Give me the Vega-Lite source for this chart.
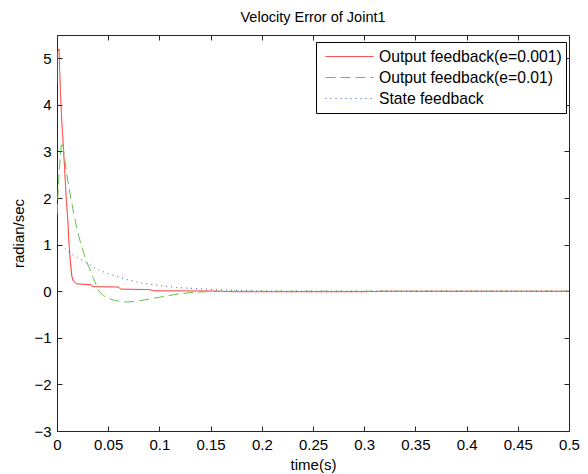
{
  "$schema": "https://vega.github.io/schema/vega-lite/v6.json",
  "width": 512,
  "height": 396,
  "autosize": {"type": "none"},
  "padding": {"left": 57, "top": 35, "right": 19, "bottom": 43},
  "title": {"text": "Velocity Error of Joint1", "fontSize": 14.5, "font": "Liberation Sans", "fontWeight": "normal", "color": "#000000", "offset": 9, "anchor": "middle"},
  "data": {"values": [
    {"s": "Output feedback(e=0.001)", "t": 0, "v": 4.45},
    {"s": "Output feedback(e=0.001)", "t": 0.0005, "v": 5.15},
    {"s": "Output feedback(e=0.001)", "t": 0.002, "v": 5.2},
    {"s": "Output feedback(e=0.001)", "t": 0.0025, "v": 4.8},
    {"s": "Output feedback(e=0.001)", "t": 0.0035, "v": 4.2},
    {"s": "Output feedback(e=0.001)", "t": 0.0048, "v": 3.6},
    {"s": "Output feedback(e=0.001)", "t": 0.0062, "v": 3.1},
    {"s": "Output feedback(e=0.001)", "t": 0.0075, "v": 2.6},
    {"s": "Output feedback(e=0.001)", "t": 0.009, "v": 2.0},
    {"s": "Output feedback(e=0.001)", "t": 0.0105, "v": 1.55},
    {"s": "Output feedback(e=0.001)", "t": 0.0118, "v": 1.0},
    {"s": "Output feedback(e=0.001)", "t": 0.0132, "v": 0.6},
    {"s": "Output feedback(e=0.001)", "t": 0.0145, "v": 0.32},
    {"s": "Output feedback(e=0.001)", "t": 0.016, "v": 0.22},
    {"s": "Output feedback(e=0.001)", "t": 0.019, "v": 0.16},
    {"s": "Output feedback(e=0.001)", "t": 0.033, "v": 0.14},
    {"s": "Output feedback(e=0.001)", "t": 0.035, "v": 0.1},
    {"s": "Output feedback(e=0.001)", "t": 0.06, "v": 0.09},
    {"s": "Output feedback(e=0.001)", "t": 0.062, "v": 0.045},
    {"s": "Output feedback(e=0.001)", "t": 0.09, "v": 0.035},
    {"s": "Output feedback(e=0.001)", "t": 0.095, "v": 0.01},
    {"s": "Output feedback(e=0.001)", "t": 0.15, "v": 0.005},
    {"s": "Output feedback(e=0.001)", "t": 0.17, "v": -0.01},
    {"s": "Output feedback(e=0.001)", "t": 0.3, "v": -0.01},
    {"s": "Output feedback(e=0.001)", "t": 0.32, "v": 0},
    {"s": "Output feedback(e=0.001)", "t": 0.5, "v": 0},
    {"s": "Output feedback(e=0.01)", "t": 0, "v": 1.65},
    {"s": "Output feedback(e=0.01)", "t": 0.001, "v": 2.1},
    {"s": "Output feedback(e=0.01)", "t": 0.002, "v": 2.5},
    {"s": "Output feedback(e=0.01)", "t": 0.0035, "v": 3.0},
    {"s": "Output feedback(e=0.01)", "t": 0.0046, "v": 3.2},
    {"s": "Output feedback(e=0.01)", "t": 0.006, "v": 3.1},
    {"s": "Output feedback(e=0.01)", "t": 0.0075, "v": 2.85},
    {"s": "Output feedback(e=0.01)", "t": 0.01, "v": 2.45},
    {"s": "Output feedback(e=0.01)", "t": 0.0135, "v": 2.0},
    {"s": "Output feedback(e=0.01)", "t": 0.017, "v": 1.6},
    {"s": "Output feedback(e=0.01)", "t": 0.02, "v": 1.3},
    {"s": "Output feedback(e=0.01)", "t": 0.0234, "v": 1.0},
    {"s": "Output feedback(e=0.01)", "t": 0.0257, "v": 0.85},
    {"s": "Output feedback(e=0.01)", "t": 0.0285, "v": 0.65},
    {"s": "Output feedback(e=0.01)", "t": 0.0316, "v": 0.5},
    {"s": "Output feedback(e=0.01)", "t": 0.0355, "v": 0.28},
    {"s": "Output feedback(e=0.01)", "t": 0.041, "v": 0.0},
    {"s": "Output feedback(e=0.01)", "t": 0.045, "v": -0.09},
    {"s": "Output feedback(e=0.01)", "t": 0.05, "v": -0.15},
    {"s": "Output feedback(e=0.01)", "t": 0.055, "v": -0.19},
    {"s": "Output feedback(e=0.01)", "t": 0.062, "v": -0.22},
    {"s": "Output feedback(e=0.01)", "t": 0.068, "v": -0.23},
    {"s": "Output feedback(e=0.01)", "t": 0.076, "v": -0.22},
    {"s": "Output feedback(e=0.01)", "t": 0.087, "v": -0.18},
    {"s": "Output feedback(e=0.01)", "t": 0.1, "v": -0.13},
    {"s": "Output feedback(e=0.01)", "t": 0.115, "v": -0.07},
    {"s": "Output feedback(e=0.01)", "t": 0.13, "v": -0.03},
    {"s": "Output feedback(e=0.01)", "t": 0.145, "v": -0.01},
    {"s": "Output feedback(e=0.01)", "t": 0.16, "v": 0},
    {"s": "Output feedback(e=0.01)", "t": 0.5, "v": 0},
    {"s": "State feedback", "t": 0, "v": 1.05},
    {"s": "State feedback", "t": 0.005, "v": 0.98},
    {"s": "State feedback", "t": 0.012, "v": 0.83},
    {"s": "State feedback", "t": 0.02, "v": 0.72},
    {"s": "State feedback", "t": 0.03, "v": 0.6},
    {"s": "State feedback", "t": 0.039, "v": 0.47},
    {"s": "State feedback", "t": 0.051, "v": 0.37},
    {"s": "State feedback", "t": 0.068, "v": 0.25},
    {"s": "State feedback", "t": 0.084, "v": 0.17},
    {"s": "State feedback", "t": 0.1, "v": 0.12},
    {"s": "State feedback", "t": 0.117, "v": 0.08},
    {"s": "State feedback", "t": 0.133, "v": 0.06},
    {"s": "State feedback", "t": 0.15, "v": 0.04},
    {"s": "State feedback", "t": 0.166, "v": 0.025},
    {"s": "State feedback", "t": 0.185, "v": 0.01},
    {"s": "State feedback", "t": 0.21, "v": 0},
    {"s": "State feedback", "t": 0.5, "v": 0}
  ]},
  "layer": [
    {
      "mark": {"type": "line", "strokeWidth": 1, "clip": true},
      "encoding": {
        "x": {"field": "t", "type": "quantitative", "scale": {"domain": [0, 0.5], "nice": false, "zero": false},
              "axis": {"orient": "bottom", "values": [0, 0.05, 0.1, 0.15, 0.2, 0.25, 0.3, 0.35, 0.4, 0.45, 0.5], "format": "~g", "title": "time(s)", "titlePadding": 5}},
        "y": {"field": "v", "type": "quantitative", "scale": {"domain": [-3, 5.5], "nice": false, "zero": false},
              "axis": {"orient": "left", "values": [-3, -2, -1, 0, 1, 2, 3, 4, 5], "format": "d", "title": "radian/sec", "titlePadding": 7}},
        "color": {"field": "s", "type": "nominal",
                  "scale": {"domain": ["Output feedback(e=0.001)", "Output feedback(e=0.01)", "State feedback"], "range": ["#ff1a1a", "#66c24d", "#3a55d0"]},
                  "legend": {"title": null}},
        "strokeDash": {"field": "s", "type": "nominal",
                  "scale": {"domain": ["Output feedback(e=0.001)", "Output feedback(e=0.01)", "State feedback"], "range": [[1, 0], [10, 5], [1, 4]]},
                  "legend": {"title": null}}
      }
    },
    {
      "mark": {"type": "line", "opacity": 0},
      "encoding": {
        "x": {"field": "t", "type": "quantitative", "axis": {"orient": "top", "values": [0, 0.05, 0.1, 0.15, 0.2, 0.25, 0.3, 0.35, 0.4, 0.45, 0.5], "labels": false, "title": null}},
        "y": {"field": "v", "type": "quantitative", "axis": {"orient": "right", "values": [-3, -2, -1, 0, 1, 2, 3, 4, 5], "labels": false, "title": null}}
      }
    }
  ],
  "resolve": {"axis": {"x": "independent", "y": "independent"}},
  "config": {
    "view": {"stroke": null},
    "axis": {
      "grid": false,
      "domainColor": "#262626",
      "domainWidth": 1,
      "tickColor": "#262626",
      "tickWidth": 1,
      "tickSize": -5,
      "labelPadding": 11,
      "labelFont": "Liberation Sans",
      "labelFontSize": 15,
      "labelColor": "#000000",
      "labelFlush": false,
      "labelOverlap": false,
      "titleFont": "Liberation Sans",
      "titleFontSize": 15,
      "titleFontWeight": "normal",
      "titleColor": "#000000"
    },
    "legend": {
      "orient": "none",
      "legendX": 259,
      "legendY": 7,
      "fillColor": "#ffffff",
      "strokeColor": "#000000",
      "padding": 4,
      "symbolType": "stroke",
      "symbolSize": 2304,
      "symbolStrokeWidth": 1,
      "symbolOffset": 5,
      "clipHeight": 21,
      "rowPadding": 0,
      "labelOffset": 5,
      "labelLimit": 0,
      "labelFont": "Liberation Sans",
      "labelFontSize": 15.7,
      "labelColor": "#000000"
    }
  }
}
